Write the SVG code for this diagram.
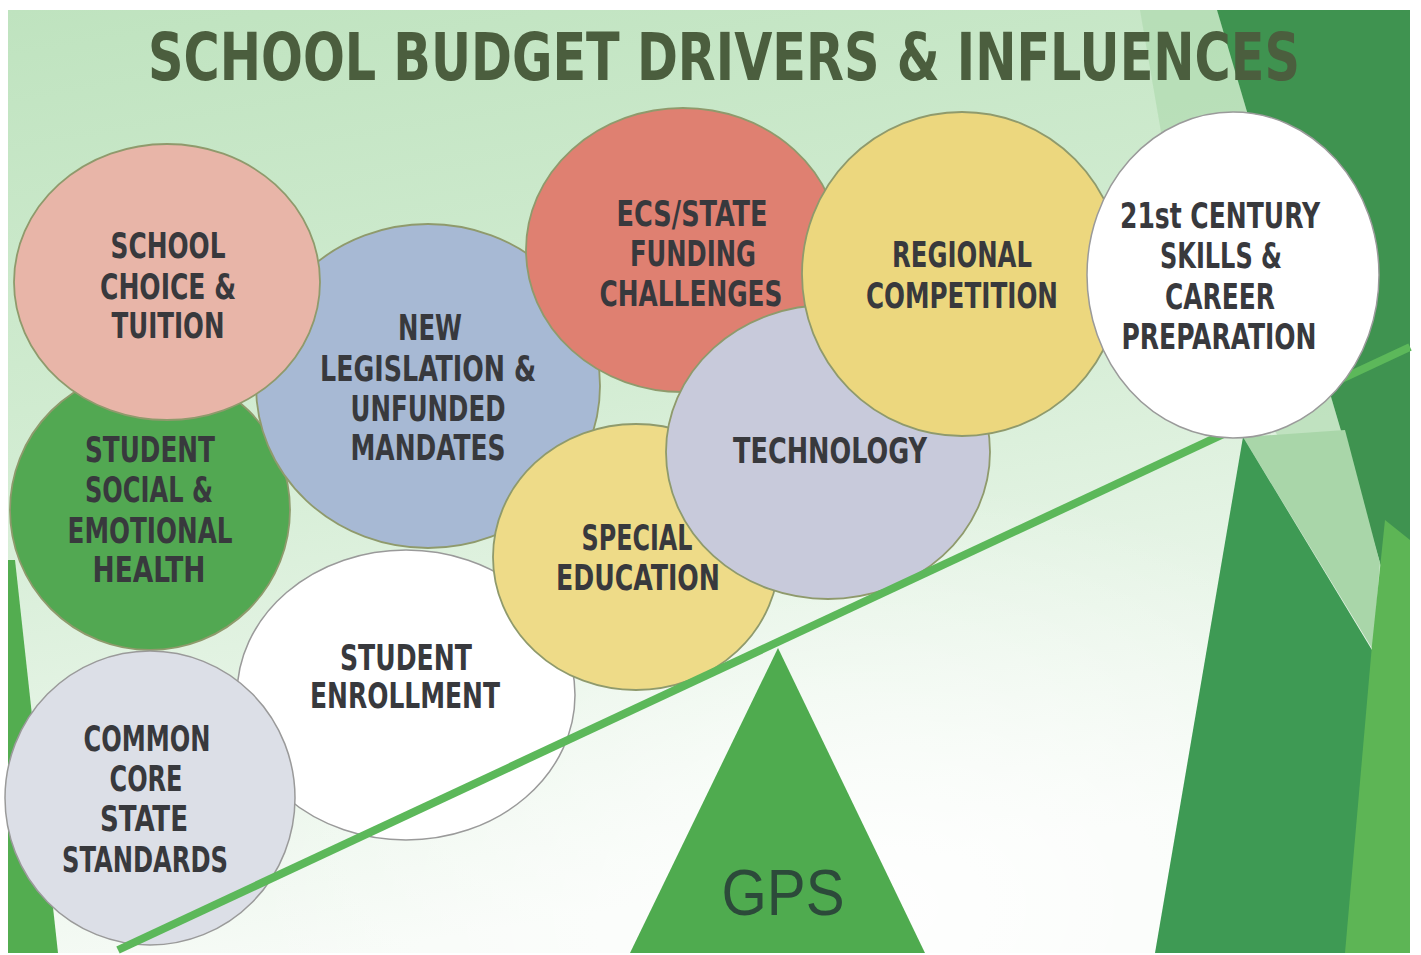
<svg xmlns="http://www.w3.org/2000/svg" width="1421" height="955" viewBox="0 0 1421 955">
<style>
.lbl{font-family:"DejaVu Sans Condensed","DejaVu Sans",sans-serif;font-stretch:condensed;font-weight:bold;font-size:35px;fill:#38393d;text-anchor:middle}
.ttl{font-family:"DejaVu Sans Condensed","DejaVu Sans",sans-serif;font-stretch:condensed;font-weight:bold;font-size:66px;fill:#4b5e3e}
.c{stroke:#8f9a6c;stroke-width:1.8}
.cw{stroke:#9a9a9a;stroke-width:1.5}
</style>
<defs>
<linearGradient id="bg" x1="0" y1="0" x2="0.25" y2="1">
<stop offset="0" stop-color="#bfe3bf"/>
<stop offset="0.45" stop-color="#d2ecd2"/>
<stop offset="1" stop-color="#f7fbf7"/>
</linearGradient>
<radialGradient id="glow" cx="0.62" cy="0.95" r="0.45">
<stop offset="0" stop-color="#ffffff" stop-opacity="0.9"/>
<stop offset="1" stop-color="#ffffff" stop-opacity="0"/>
</radialGradient>
</defs>
<rect x="0" y="0" width="1421" height="955" fill="#ffffff"/>
<g id="background">
<rect x="8" y="10" width="1402" height="943" fill="url(#bg)"/>
<rect x="8" y="10" width="1402" height="943" fill="url(#glow)"/>
<polygon points="1140,10 1217,10 1380,563 1300,470 1190,300" fill="#acd9ac" opacity="0.6"/>
<polygon points="1217,10 1410,10 1410,640 1380,563" fill="#3f9350"/>
<polygon points="1243,437 1345,430 1380,563 1373,650" fill="#a9d6a9"/>
<polygon points="1243,437 1375,655 1350,953 1155,953" fill="#3e9a54"/>
<polygon points="1385,520 1410,540 1410,953 1345,953 1372,645" fill="#5db555"/>
<polygon points="8,560 15,560 58,953 8,953" fill="#53ad50"/>
</g>
<g id="fulcrum">
<polygon points="778,648 925,953 630,953" fill="#4fab4f"/>
<text x="783" y="915" style="font-family:'Liberation Sans',Arial,sans-serif;font-size:64px;fill:#2c4a3a" text-anchor="middle" textLength="123" lengthAdjust="spacingAndGlyphs">GPS</text>
</g>
<g id="title">
<text class="ttl" x="148" y="80" textLength="1152" lengthAdjust="spacingAndGlyphs">SCHOOL BUDGET DRIVERS &amp; INFLUENCES</text>
</g>
<g id="node-social">
<ellipse class="c" cx="150" cy="510" rx="140" ry="140" fill="#52a852"/>
<text class="lbl" x="150" y="462" textLength="130" lengthAdjust="spacingAndGlyphs">STUDENT</text>
<text class="lbl" x="149" y="502" textLength="128" lengthAdjust="spacingAndGlyphs">SOCIAL &amp;</text>
<text class="lbl" x="150" y="543" textLength="165" lengthAdjust="spacingAndGlyphs">EMOTIONAL</text>
<text class="lbl" x="149" y="582" textLength="113" lengthAdjust="spacingAndGlyphs">HEALTH</text>
</g>
<g id="node-legislation">
<ellipse class="c" cx="428" cy="386" rx="172" ry="162" fill="#a7b9d4"/>
<text class="lbl" x="430" y="340" textLength="64" lengthAdjust="spacingAndGlyphs">NEW</text>
<text class="lbl" x="428" y="381" textLength="216" lengthAdjust="spacingAndGlyphs">LEGISLATION &amp;</text>
<text class="lbl" x="428" y="421" textLength="155" lengthAdjust="spacingAndGlyphs">UNFUNDED</text>
<text class="lbl" x="428" y="460" textLength="155" lengthAdjust="spacingAndGlyphs">MANDATES</text>
</g>
<g id="node-choice">
<ellipse class="c" cx="167" cy="282" rx="153" ry="138" fill="#e8b5a8"/>
<text class="lbl" x="168" y="258" textLength="115" lengthAdjust="spacingAndGlyphs">SCHOOL</text>
<text class="lbl" x="168" y="299" textLength="136" lengthAdjust="spacingAndGlyphs">CHOICE &amp;</text>
<text class="lbl" x="168" y="338" textLength="113" lengthAdjust="spacingAndGlyphs">TUITION</text>
</g>
<g id="node-ecs">
<ellipse class="c" cx="683" cy="250" rx="157" ry="142" fill="#df8071"/>
<text class="lbl" x="692" y="226" textLength="151" lengthAdjust="spacingAndGlyphs">ECS/STATE</text>
<text class="lbl" x="693" y="266" textLength="126" lengthAdjust="spacingAndGlyphs">FUNDING</text>
<text class="lbl" x="691" y="306" textLength="183" lengthAdjust="spacingAndGlyphs">CHALLENGES</text>
</g>
<g id="node-enrollment">
<ellipse class="cw" cx="406" cy="695" rx="169" ry="145" fill="#ffffff"/>
<text class="lbl" x="406" y="670" textLength="132" lengthAdjust="spacingAndGlyphs">STUDENT</text>
<text class="lbl" x="405" y="708" textLength="190" lengthAdjust="spacingAndGlyphs">ENROLLMENT</text>
</g>
<g id="node-special">
<ellipse class="c" cx="636" cy="557" rx="143" ry="133" fill="#eedb88"/>
<text class="lbl" x="637" y="550" textLength="111" lengthAdjust="spacingAndGlyphs">SPECIAL</text>
<text class="lbl" x="638" y="590" textLength="164" lengthAdjust="spacingAndGlyphs">EDUCATION</text>
</g>
<g id="node-technology">
<ellipse class="c" cx="828" cy="452" rx="162" ry="147" fill="#c8cadb"/>
<text class="lbl" x="830" y="463" textLength="194" lengthAdjust="spacingAndGlyphs">TECHNOLOGY</text>
</g>
<g id="node-regional">
<ellipse class="c" cx="962" cy="274" rx="160" ry="162" fill="#ecd77e"/>
<text class="lbl" x="962" y="267" textLength="140" lengthAdjust="spacingAndGlyphs">REGIONAL</text>
<text class="lbl" x="962" y="308" textLength="192" lengthAdjust="spacingAndGlyphs">COMPETITION</text>
</g>
<g id="node-commoncore">
<ellipse class="cw" cx="150" cy="798" rx="145" ry="147" fill="#dcdfe7"/>
<text class="lbl" x="147" y="751" textLength="127" lengthAdjust="spacingAndGlyphs">COMMON</text>
<text class="lbl" x="146" y="791" textLength="73" lengthAdjust="spacingAndGlyphs">CORE</text>
<text class="lbl" x="144" y="831" textLength="88" lengthAdjust="spacingAndGlyphs">STATE</text>
<text class="lbl" x="145" y="872" textLength="166" lengthAdjust="spacingAndGlyphs">STANDARDS</text>
</g>
<g id="connectors">
<line x1="118" y1="950" x2="1410" y2="347" stroke="#5cb85a" stroke-width="8"/>
</g>
<g id="node-21st">
<ellipse class="cw" cx="1233" cy="275" rx="146" ry="163" fill="#ffffff"/>
<text class="lbl" x="1220" y="228" textLength="200" lengthAdjust="spacingAndGlyphs">21st CENTURY</text>
<text class="lbl" x="1221" y="268" textLength="122" lengthAdjust="spacingAndGlyphs">SKILLS &amp;</text>
<text class="lbl" x="1220" y="309" textLength="110" lengthAdjust="spacingAndGlyphs">CAREER</text>
<text class="lbl" x="1219" y="349" textLength="195" lengthAdjust="spacingAndGlyphs">PREPARATION</text>
</g>
</svg>
